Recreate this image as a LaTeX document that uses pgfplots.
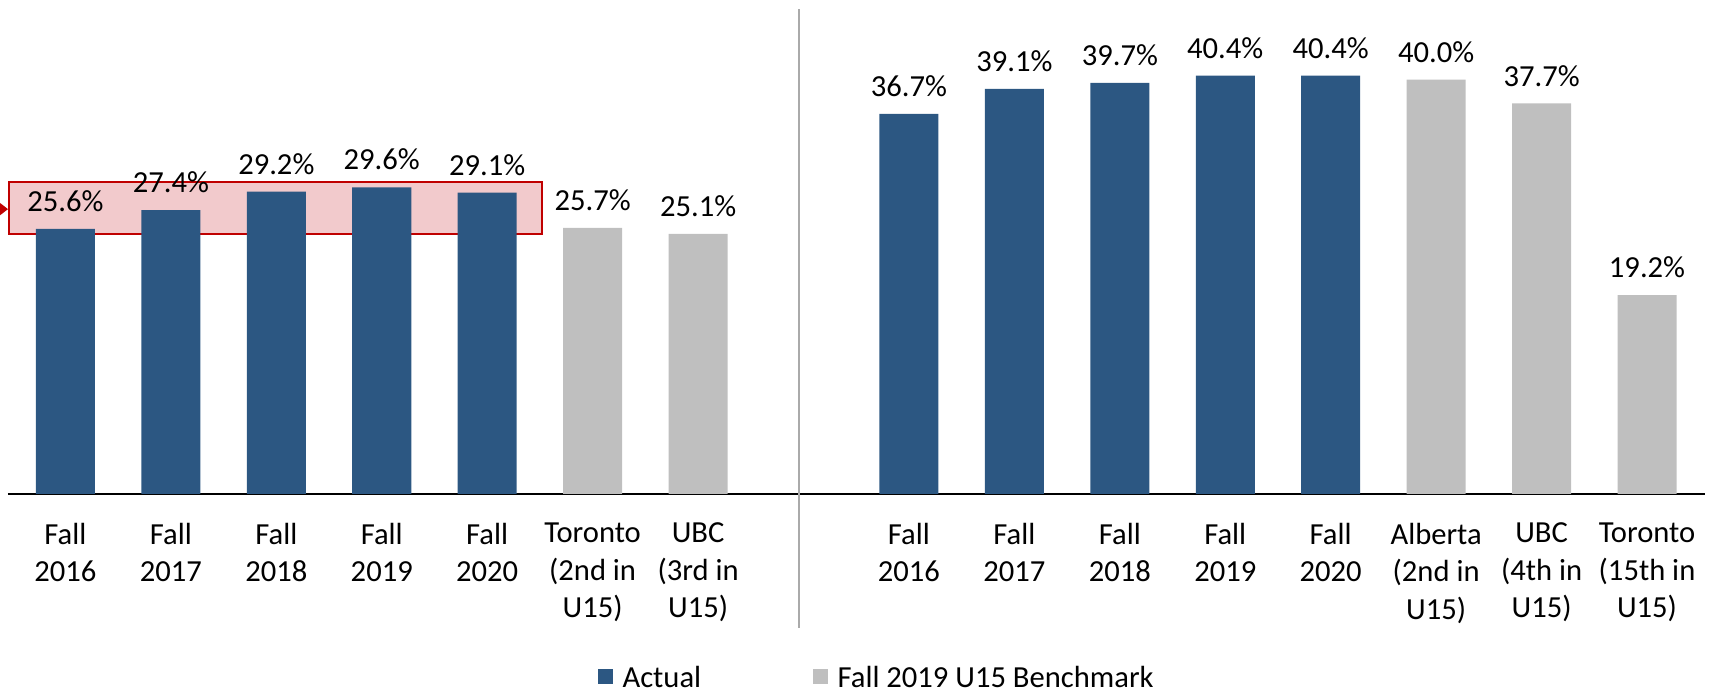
\documentclass[border=0pt]{standalone}
\usepackage{fontspec}
\setmainfont{Carlito}
\usepackage{pgfplots}
\pgfplotsset{compat=1.18}
\definecolor{barblue}{RGB}{44,87,130}
\definecolor{bargray}{RGB}{191,191,191}
\definecolor{boxred}{RGB}{192,0,0}
\definecolor{boxfill}{RGB}{242,202,204}
\definecolor{divgray}{RGB}{170,170,170}
\newcommand\chartfont{\fontsize{15.3}{18.8}\selectfont}
\pgfplotsset{sqlegend/.style={legend image code/.code={\fill[##1] (0pt,-3.75pt) rectangle (7.5pt,3.75pt); \path (10.2pt,0pt);}}}
\begin{document}
\begin{tikzpicture}
\begin{axis}[
  set layers,
  scale only axis, width=848.5pt, height=246pt,
  xmin=-0.545, xmax=15.55, ymin=0, ymax=47.5,
  axis x line=bottom, axis y line=none,
  axis line style={-, black, line width=1pt},
  xtick={0,1,2,3,4,5,6,8,9,10,11,12,13,14,15},
  xticklabels={{Fall\\2016},{Fall\\2017},{Fall\\2018},{Fall\\2019},{Fall\\2020},{Toronto\\(2nd in\\U15)},{UBC\\(3rd in\\U15)},
               {Fall\\2016},{Fall\\2017},{Fall\\2018},{Fall\\2019},{Fall\\2020},{Alberta\\(2nd in\\U15)},{UBC\\(4th in\\U15)},{Toronto\\(15th in\\U15)}},
  xtick style={draw=none},
  xticklabel style={align=center, font=\chartfont, inner sep=0pt, yshift=-10pt},
  ytick=\empty,
  ybar, bar width=0.56,
  nodes near coords={\pgfmathprintnumber[fixed,fixed zerofill,precision=1,assume math mode=true]{\pgfplotspointmeta}\%},
  nodes near coords style={font=\chartfont, anchor=south, inner sep=0pt, text depth=0pt, yshift=8.5pt, black},
  clip=false,
  legend style={at={(0.5126,-0.371)}, anchor=center, draw=none, fill=none, legend columns=2, font=\chartfont,
    inner ysep=0pt, nodes={inner ysep=0pt, text depth=0pt},
    /tikz/every even column/.append style={column sep=54pt}},
  legend cell align=left,
]
\begin{pgfonlayer}{axis background}
\draw[boxred, fill=boxfill, line width=1pt] (axis cs:-0.536,25.1) rectangle (axis cs:4.52,30.09);
\end{pgfonlayer}
\fill[boxred] (axis cs:-0.621,28.1) -- (axis cs:-0.545,27.5) -- (axis cs:-0.621,26.9) -- cycle;
\draw[divgray, line width=0.9pt] (axis cs:6.955,46.8) -- (axis cs:6.955,-12.9);

\addplot[fill=barblue, draw=none, bar shift=0pt, sqlegend]
  coordinates {(0,25.6)(1,27.4)(2,29.2)(3,29.6)(4,29.1)(8,36.7)(9,39.1)(10,39.7)(11,40.4)(12,40.4)};
\addlegendentry{Actual}
\addplot[fill=bargray, draw=none, bar shift=0pt, sqlegend]
  coordinates {(5,25.7)(6,25.1)(13,40.0)(14,37.7)(15,19.2)};
\addlegendentry{Fall 2019 U15 Benchmark}

\coordinate (bbsw) at (rel axis cs:-0.0047,-0.4045);
\coordinate (bbne) at (rel axis cs:1.0053,1.004);
\end{axis}
\pgfresetboundingbox
\path (bbsw) rectangle (bbne);
\end{tikzpicture}
\end{document}
